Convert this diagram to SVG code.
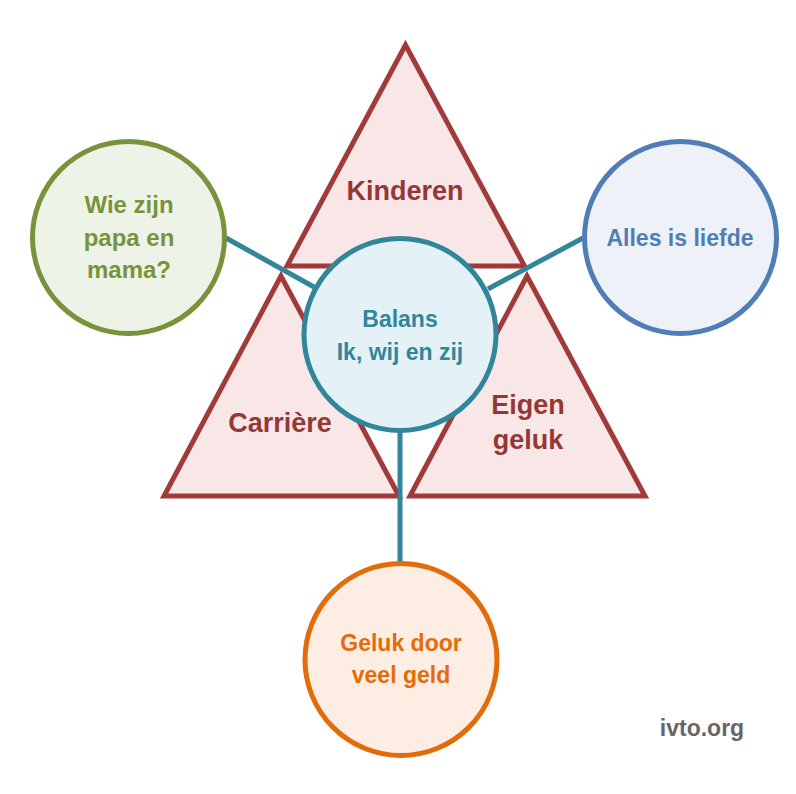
<svg xmlns="http://www.w3.org/2000/svg" width="796" height="794" viewBox="0 0 796 794">
<style>
text{font-family:"Liberation Sans",Arial,sans-serif;font-weight:bold;text-anchor:middle}
.tri polygon{fill:#F9E6E7;stroke:#A13B3B;stroke-width:5;stroke-linejoin:miter}
.tri text{fill:#953735;font-size:27px}
.conn line{stroke:#31869B;stroke-width:5}
circle{stroke-width:5}
</style>
<rect width="796" height="794" fill="#FFFFFF"/>
<g id="kinderen" class="tri">
<polygon points="405.5,45 287,266 524.5,266"/>
<text x="405" y="200">Kinderen</text>
</g>
<g id="carriere" class="tri">
<polygon points="281,276 164,496 399,496"/>
<text x="280" y="432">Carrière</text>
</g>
<g id="eigen-geluk" class="tri">
<polygon points="527,276 410,496 645,496"/>
<text x="528" y="414">Eigen</text>
<text x="528" y="449">geluk</text>
</g>
<g id="connectors" class="conn">
<line x1="226" y1="238" x2="314" y2="287"/>
<line x1="583" y1="238" x2="488" y2="289"/>
<line x1="400" y1="430" x2="400" y2="563"/>
</g>
<g id="balans">
<circle cx="400" cy="334.5" r="96" fill="#E4F2F7" stroke="#31869B"/>
<text x="400" y="327" fill="#31869B" font-size="23">Balans</text>
<text x="400" y="360" fill="#31869B" font-size="23">Ik, wij en zij</text>
</g>
<g id="wie-zijn">
<circle cx="128.5" cy="237.5" r="96" fill="#EEF3E7" stroke="#77933C"/>
<text x="129" y="213" fill="#77933C" font-size="24">Wie zijn</text>
<text x="129" y="246" fill="#77933C" font-size="24">papa en</text>
<text x="129" y="278" fill="#77933C" font-size="24">mama?</text>
</g>
<g id="alles">
<circle cx="680.5" cy="237.5" r="96" fill="#EEF1F7" stroke="#4F7DB5"/>
<text x="680" y="246" fill="#4F7DB5" font-size="23">Alles is liefde</text>
</g>
<g id="geluk-geld">
<circle cx="401" cy="659.5" r="96" fill="#FDEDE2" stroke="#E36C0A"/>
<text x="401" y="651" fill="#E36C0A" font-size="23">Geluk door</text>
<text x="401" y="683" fill="#E36C0A" font-size="23">veel geld</text>
</g>
<text x="702" y="736" fill="#666666" font-size="23">ivto.org</text>
</svg>
